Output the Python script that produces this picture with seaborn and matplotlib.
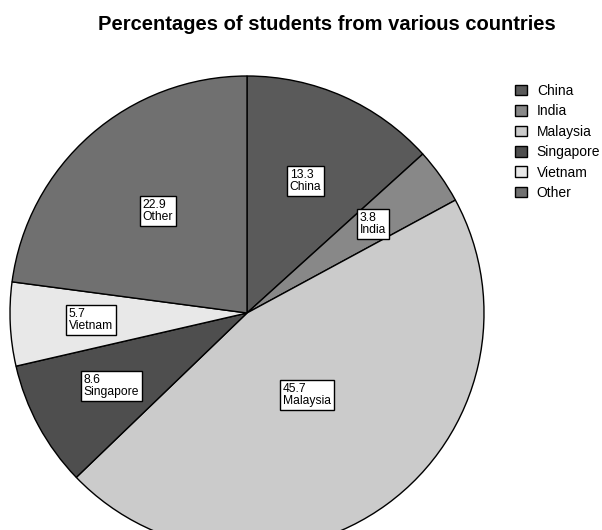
import numpy as np
import matplotlib
matplotlib.use("Agg")
import matplotlib.pyplot as plt
import seaborn as sns
from matplotlib.patches import Patch

countries = ["China", "India", "Malaysia", "Singapore", "Vietnam", "Other"]
percentages = [13.3, 3.8, 45.7, 8.6, 5.7, 22.9]
shades = ["#5a5a5a", "#888888", "#cbcbcb", "#4e4e4e", "#e8e8e8", "#707070"]

sns.set_style("white")
plt.rcParams['font.family'] = ['Liberation Sans', 'DejaVu Sans']
plt.rcParams['text.color'] = 'black'

fig = plt.figure(figsize=(6.02, 5.30), dpi=100)
# pie area in pixels: x 10..484, y 76..550 (bottom clipped by the figure)
ax = fig.add_axes([10 / 602, 1 - 550 / 530, 474 / 602, 474 / 530])

wedges, _ = ax.pie(percentages, colors=shades, startangle=90, counterclock=False,
                   radius=1.0, wedgeprops=dict(edgecolor="black", linewidth=1.0))
ax.set_xlim(-1, 1)
ax.set_ylim(-1, 1)
ax.set_aspect("equal")
ax.axis("off")

# value labels in white boxes, placed along the mid angle of each wedge
label_dist = [0.61, 0.65, 0.43, 0.65, 0.66, 0.57]
for w, pct, name, d in zip(wedges, percentages, countries, label_dist):
    mid = np.deg2rad((w.theta1 + w.theta2) / 2)
    ax.text(d * np.cos(mid), d * np.sin(mid), f"{pct}\n{name}",
            ha="center", va="center", fontsize=8.7, linespacing=1.0,
            multialignment="left",
            bbox=dict(boxstyle="square,pad=0.25", facecolor="white",
                      edgecolor="black", linewidth=1.0))

fig.text(327 / 602, 1 - 24 / 530, "Percentages of students from various countries",
         ha="center", va="center", fontsize=14.5, fontweight="bold")

handles = [Patch(facecolor=c, edgecolor="black", linewidth=1.0) for c in shades]
fig.legend(handles, countries, loc="upper left",
           bbox_to_anchor=(515 / 602, 1 - 84 / 530), frameon=False,
           fontsize=10, handlelength=0.85, handleheight=0.8, handletextpad=0.72,
           labelspacing=0.46, borderpad=0, borderaxespad=0)

fig.savefig("out.png", dpi=100)
